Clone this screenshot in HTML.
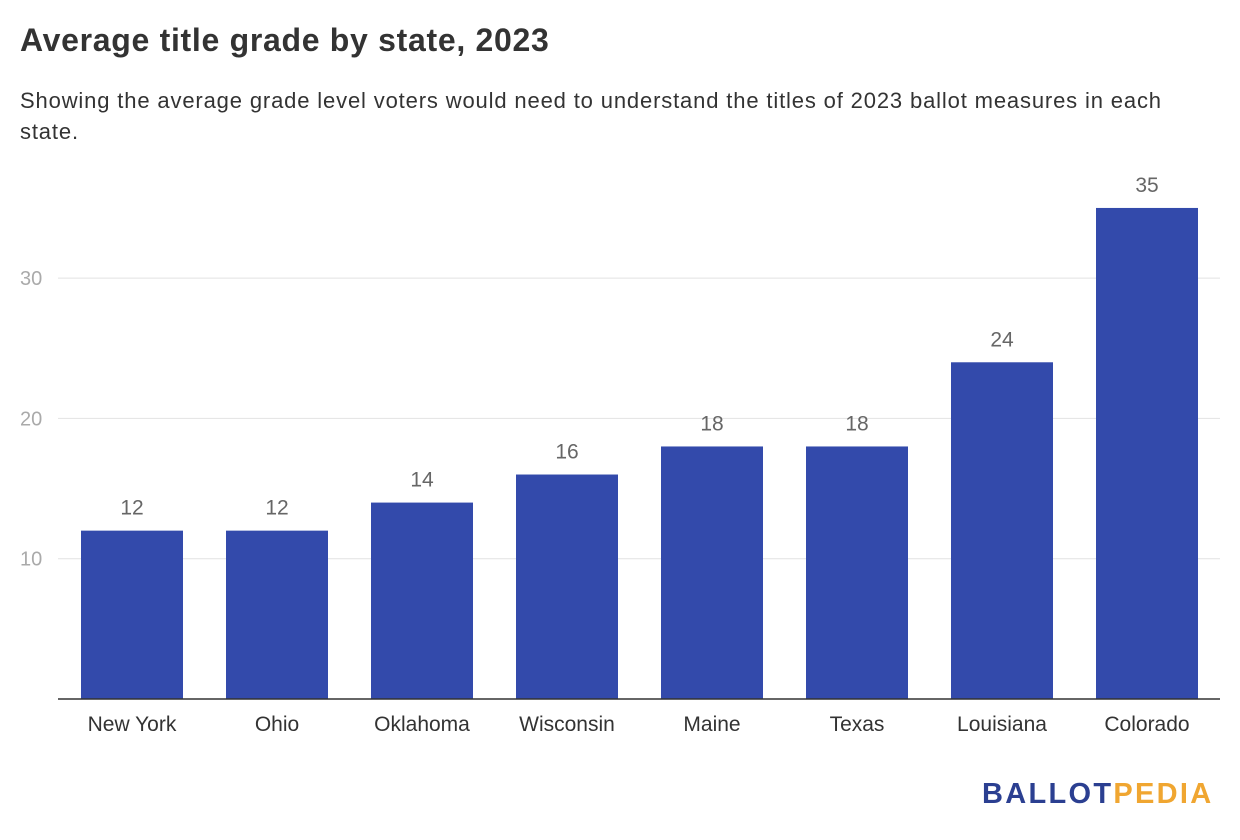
<!DOCTYPE html>
<html><head><meta charset="utf-8"><style>
body{margin:0;width:1240px;height:840px;background:#fff;font-family:"Liberation Sans",sans-serif;overflow:hidden;position:relative}
#title{position:absolute;left:20px;top:22px;font-size:32px;font-weight:bold;color:#333;letter-spacing:0.7px}
#sub{position:absolute;left:20px;top:85px;width:1190px;font-size:22px;line-height:31px;color:#333;letter-spacing:0.85px}
#logo{position:absolute;left:982px;top:778px;font-size:29px;font-weight:bold;letter-spacing:2.3px}
</style></head><body>
<div id="title">Average title grade by state, 2023</div>
<div id="sub">Showing the average grade level voters would need to understand the titles of 2023 ballot measures in each state.</div>
<svg id="chart" width="1240" height="840" style="position:absolute;left:0;top:0"></svg>
<div id="logo"><span style="color:#2b3f91">BALLOT</span><span style="color:#f0a631">PEDIA</span></div>
<script>
const categories=["New York","Ohio","Oklahoma","Wisconsin","Maine","Texas","Louisiana","Colorado"];
const values=[12,12,14,16,18,18,24,35];
const ticks=[10,20,30];
const svg=document.getElementById('chart');
const NS='http://www.w3.org/2000/svg';
const x0=58,x1=1220,y0=699,pxPer=14.03,step=145,barW=102,firstC=132;
const y=v=>y0-v*pxPer;
const xc=i=>firstC+i*step;
function mk(t,a){const e=document.createElementNS(NS,t);for(const k in a)e.setAttribute(k,a[k]);svg.appendChild(e);return e;}
ticks.forEach(t=>{
const l=mk('line',{x1:x0,x2:x1,y1:y(t),y2:y(t),stroke:'#e2e2e2','stroke-width':1});


const tx=mk('text',{x:20,y:y(t)+7,'font-size':20,fill:'#aaa','font-family':'Liberation Sans, sans-serif'});
tx.textContent=t;


});
categories.forEach((c,i)=>{
const r=mk('rect',{x:xc(i)-barW/2,y:y(values[i]),width:barW,height:values[i]*pxPer,fill:'#334aab'});


const v=mk('text',{x:xc(i),y:y(values[i])-16,'font-size':21,fill:'#666','text-anchor':'middle','font-family':'Liberation Sans, sans-serif'});
v.textContent=values[i];


const lb=mk('text',{x:xc(i),y:731,'font-size':21,fill:'#333','text-anchor':'middle','font-family':'Liberation Sans, sans-serif'});
lb.textContent=c;


});
const b=mk('line',{x1:x0,x2:x1,y1:y0,y2:y0,stroke:'#333','stroke-width':1.5});


</script>
</body></html>
